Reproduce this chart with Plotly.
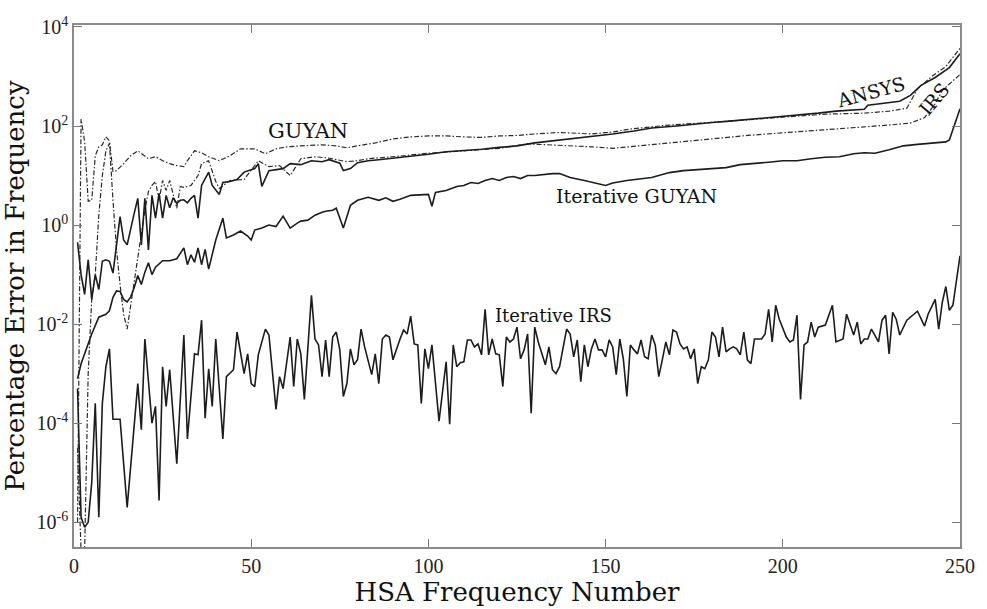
import plotly.graph_objects as go

# ---------------- data (y stored as log10) -------------
ansys_x = [1,2,3,4,5,6,7,8,9,10,
           11,13,14,15,17,18,19,20,21,22,
           23,24,25,26,27,28,29,30,31,32,
           33,34,35,36,38,39,41,42,44,46,
           48,51,52,53,55,57,59,61,64,67,
           70,72,75,76,78,80,83,86,90,95,
           100,105,110,115,120,125,130,135,140,146,
           152,158,163,170,175,180,185,190,195,200,
           205,210,215,220,223,224,229,233,236,239,
           243,247,250]
ansys_log = [-0.35,-1.0,-1.4,-0.7,-1.5,-1.0,-1.3,-0.73,-0.7,-0.73,
             -0.97,0.17,-0.3,-0.4,0.24,0.54,-0.4,0.54,-0.5,0.6,
             0.14,0.64,0.14,0.6,0.35,0.55,0.44,0.5,0.51,0.45,
             0.54,0.6,0.14,0.8,1.07,0.8,0.62,0.86,0.88,0.92,
             1.07,1.14,1.24,0.78,1.1,1.12,1.14,1.24,1.22,1.3,
             1.28,1.32,1.25,1.1,1.14,1.26,1.3,1.32,1.35,1.38,
             1.43,1.48,1.5,1.53,1.57,1.6,1.66,1.7,1.74,1.79,
             1.84,1.9,1.96,2.0,2.04,2.07,2.1,2.13,2.16,2.19,
             2.22,2.26,2.3,2.32,2.34,2.42,2.46,2.5,2.62,2.82,
             2.98,3.18,3.46]

guyan_x = [1,2,3,4,5,6,7,8,9,10,
           11,12,14,16,18,19,21,23,25,27,
           29,31,32,34,36,38,41,44,47,51,
           54,57,60,64,70,74,77,80,85,90,
           95,100,105,110,115,120,125,130,137,146,
           152,157,163,168,179,190,201,212,223,230,
           235,238,242,246,250]
guyan_log = [-6.0,2.14,1.68,0.48,0.5,1.4,1.58,1.62,1.78,1.7,
             1.08,1.1,1.24,1.4,1.5,1.44,1.34,1.38,1.3,1.24,
             1.2,1.18,1.3,1.5,1.46,1.38,1.3,1.4,1.54,1.54,
             1.44,1.54,1.58,1.6,1.62,1.6,1.56,1.6,1.66,1.74,
             1.78,1.8,1.8,1.78,1.77,1.8,1.81,1.84,1.87,1.84,
             1.88,1.94,1.98,2.02,2.07,2.13,2.19,2.24,2.26,2.3,
             2.36,2.75,3.0,3.2,3.57]

irs_x = [1,2,3,4,5,6,7,8,9,10,
         11,12,13,14,15,16,17,18,19,20,
         21,22,23,24,25,26,27,28,29,30,
         31,33,35,36,38,40,41,44,48,52,
         55,58,61,64,68,72,77,80,83,90,
         100,110,120,128,135,146,152,160,170,180,
         190,200,210,220,230,236,240,243,245,247,
         250]
irs_log = [-4.5,-6.6,-6.6,-3.0,-1.5,-1.0,0.2,1.0,1.5,1.65,
           0.5,-0.5,-1.2,-1.8,-2.1,-1.6,-1.2,-0.6,-0.2,0.3,
           0.68,0.8,0.88,0.5,0.9,0.7,0.9,0.6,0.34,0.78,
           0.76,0.8,1.0,1.24,1.3,0.88,0.74,0.9,0.92,1.3,
           1.18,1.2,1.0,1.34,1.38,1.35,1.28,1.3,1.34,1.38,
           1.45,1.5,1.55,1.64,1.62,1.58,1.55,1.6,1.67,1.74,
           1.81,1.86,1.91,1.96,2.02,2.06,2.17,2.45,2.72,2.85,
           3.04]

iter_guyan_x = [1,2,3,4,5,7,9,10,11,12,
                13,14,15,16,17,18,19,20,21,22,
                23,25,27,29,31,32,33,34,35,36,
                37,38,40,42,43,45,47,49,50,51,
                53,55,57,59,61,63,64,66,68,70,
                71,73,74,76,78,80,83,86,88,90,
                92,95,98,100,101,102,105,108,110,112,
                114,116,118,120,122,124,126,128,130,132,
                135,137,140,144,150,152,156,163,168,172,
                176,180,184,188,192,196,200,204,208,212,
                216,220,223,226,230,234,238,242,246,247,
                250]
iter_guyan_log = [-3.1,-2.8,-2.6,-2.4,-2.2,-1.86,-1.8,-1.73,-1.46,-1.33,
                  -1.34,-1.5,-1.55,-1.45,-1.26,-1.02,-1.2,-0.95,-0.76,-1.0,
                  -0.85,-0.72,-0.72,-0.68,-0.46,-0.8,-0.6,-0.75,-0.46,-0.8,
                  -0.49,-0.89,-0.3,0.14,-0.26,-0.2,-0.12,-0.22,-0.3,-0.1,
                  -0.06,0.0,-0.03,0.18,-0.06,0.04,0.08,0.1,0.2,0.26,
                  0.28,0.3,0.34,-0.06,0.4,0.5,0.56,0.5,0.55,0.48,
                  0.52,0.6,0.62,0.62,0.38,0.66,0.7,0.78,0.8,0.86,
                  0.84,0.9,0.94,0.9,0.96,0.98,0.94,1.0,1.0,1.02,
                  1.04,1.04,0.96,0.9,0.8,0.85,0.9,0.96,1.06,1.1,
                  1.12,1.14,1.16,1.22,1.24,1.27,1.3,1.3,1.34,1.37,
                  1.38,1.44,1.46,1.45,1.52,1.6,1.63,1.66,1.68,1.72,
                  2.35]

iter_irs_x = [1,2,3,4,5,6,7,8,9,10,
              11,13,15,18,19,20,22,23,24,25,
              26,27,29,31,32,34,35,36,37,38,
              39,40,42,43,45,46,48,49,50,51,
              52,54,55,57,58,59,61,62,63,64,
              65,67,68,69,70,71,72,73,74,75,
              76,77,78,79,80,81,82,84,85,86,
              87,88,89,90,92,93,94,95,96,97,
              98,99,100,101,103,105,106,107,108,109,
              110,111,112,113,114,115,116,117,118,119,
              120,121,122,123,124,125,126,127,128,129,
              130,131,133,134,135,136,137,139,140,141,
              142,143,144,145,146,147,148,149,150,151,
              152,153,154,155,156,157,158,159,160,161,
              162,163,164,165,166,167,168,169,170,171,
              172,173,174,175,176,177,178,179,180,181,
              182,183,184,185,186,187,188,189,190,191,
              192,194,195,196,197,198,199,201,202,203,
              204,205,206,207,208,209,210,212,214,215,
              217,218,220,221,222,223,224,225,227,228,
              229,230,231,232,233,235,238,240,241,243,
              244,245,246,247,248,250]
iter_irs_log = [-3.3,-5.9,-6.1,-6.0,-5.2,-3.6,-5.9,-3.6,-2.86,-2.5,
                -3.92,-3.92,-5.7,-3.2,-4.13,-2.3,-4.0,-3.66,-5.56,-2.86,
                -3.66,-2.92,-4.82,-2.22,-4.32,-2.6,-2.62,-1.92,-3.9,-2.9,
                -3.66,-2.3,-4.32,-3.06,-2.92,-2.16,-3.0,-2.6,-3.2,-3.26,
                -2.62,-2.1,-2.22,-3.72,-3.06,-3.3,-2.26,-3.26,-2.3,-2.6,
                -3.52,-1.42,-2.3,-2.42,-3.06,-2.32,-3.06,-2.26,-2.16,-2.52,
                -3.46,-3.2,-2.5,-2.82,-2.72,-2.1,-2.46,-3.02,-2.6,-3.2,
                -2.3,-2.22,-2.26,-2.72,-2.3,-2.12,-2.2,-1.84,-2.4,-2.42,
                -3.6,-2.5,-2.9,-2.42,-3.96,-2.76,-4.02,-2.42,-2.86,-2.78,
                -2.76,-2.32,-2.32,-2.46,-2.4,-2.62,-1.7,-2.62,-2.3,-2.6,
                -2.62,-3.26,-2.26,-2.36,-2.3,-2.06,-2.7,-2.52,-2.2,-3.8,
                -2.06,-2.36,-2.82,-2.46,-2.92,-3.0,-2.86,-2.1,-2.2,-2.66,
                -2.32,-3.16,-2.42,-2.86,-2.5,-2.3,-2.52,-2.52,-2.66,-2.32,
                -2.46,-3.02,-2.3,-2.7,-3.46,-2.42,-2.52,-2.6,-2.32,-2.66,
                -2.7,-2.22,-2.42,-3.06,-2.72,-2.36,-2.62,-2.12,-2.16,-2.4,
                -2.5,-2.46,-2.7,-2.5,-3.2,-2.86,-2.9,-2.72,-2.16,-2.26,
                -2.66,-2.06,-2.56,-2.5,-2.46,-2.5,-2.62,-2.16,-2.72,-2.8,
                -2.3,-2.3,-2.2,-1.7,-2.36,-1.62,-1.9,-2.26,-2.36,-2.32,
                -1.82,-3.52,-2.42,-2.36,-1.96,-2.26,-2.06,-2.02,-1.62,-2.36,
                -2.3,-1.8,-2.22,-1.96,-2.4,-2.3,-2.3,-2.1,-2.36,-1.92,
                -1.82,-2.6,-1.76,-1.9,-2.22,-1.92,-1.74,-2.04,-1.8,-1.5,
                -2.1,-1.56,-1.24,-1.72,-1.62,-0.62]

x_ticks = [0, 50, 100, 150, 200, 250]
y_tick_exps = [-6, -4, -2, 0, 2, 4]
y_tick_text = ["10<sup>%d</sup>" % e for e in y_tick_exps]

# ---------------- figure -------------------------------------------------------------
LINE = "#1c1c1c"
SERIF = "DejaVu Serif"
TICKFONT = "Liberation Serif"
DASHDOT = "5px,2px,1.5px,2px"

def to_vals(logs):
    return [10 ** v for v in logs]

fig = go.Figure()
fig.add_trace(go.Scatter(x=guyan_x, y=to_vals(guyan_log), mode="lines",
                         line=dict(color="#2a2a2a", width=1.2, dash=DASHDOT), name="GUYAN"))
fig.add_trace(go.Scatter(x=irs_x, y=to_vals(irs_log), mode="lines",
                         line=dict(color="#2a2a2a", width=1.2, dash=DASHDOT), name="IRS"))
fig.add_trace(go.Scatter(x=ansys_x, y=to_vals(ansys_log), mode="lines",
                         line=dict(color=LINE, width=1.6), name="ANSYS"))
fig.add_trace(go.Scatter(x=iter_guyan_x, y=to_vals(iter_guyan_log), mode="lines",
                         line=dict(color=LINE, width=1.6), name="Iterative GUYAN"))
fig.add_trace(go.Scatter(x=iter_irs_x, y=to_vals(iter_irs_log), mode="lines",
                         line=dict(color=LINE, width=1.6), name="Iterative IRS"))

ann_font = lambda s: dict(family=SERIF, size=s, color="#111")
annotations = [
    dict(x=66, y=1.9, text="GUYAN", font=ann_font(21)),
    dict(x=224.8, y=2.68, text="ANSYS", textangle=-15, font=ann_font(19)),
    dict(x=242.7, y=2.54, text="IRS", textangle=-50, font=ann_font(19)),
    dict(x=158.6, y=0.58, text="Iterative GUYAN", font=ann_font(19)),
    dict(x=135.4, y=-1.82, text="Iterative IRS", font=ann_font(18)),
]
for a in annotations:
    a.update(xref="x", yref="y", showarrow=False)

fig.update_layout(
    width=987, height=609,
    margin=dict(l=74, r=21, t=25, b=57),
    plot_bgcolor="white", paper_bgcolor="white",
    showlegend=False,
    annotations=annotations,
)
fig.update_xaxes(
    range=[0, 250], tickvals=x_ticks,
    ticks="inside", ticklen=8, tickcolor="#777", tickwidth=1,
    showline=True, linecolor="#8a8a8a", linewidth=1.5, mirror="ticks",
    showgrid=False, zeroline=False,
    tickfont=dict(family=TICKFONT, size=20, color="#222"),
    title=dict(text="HSA Frequency Number", font=dict(family=SERIF, size=26, color="#111"), standoff=2),
)
fig.update_yaxes(
    type="log", range=[-6.5, 4.04],
    tickvals=[10 ** e for e in y_tick_exps], ticktext=y_tick_text,
    ticks="inside", ticklen=8, tickcolor="#777", tickwidth=1,
    showline=True, linecolor="#8a8a8a", linewidth=1.5, mirror="ticks",
    showgrid=False, zeroline=False,
    tickfont=dict(family=TICKFONT, size=20, color="#222"),
    title=dict(text="Percentage Error in Frequency", font=dict(family=SERIF, size=26, color="#111"), standoff=4),
)

fig.write_html("out.html")
